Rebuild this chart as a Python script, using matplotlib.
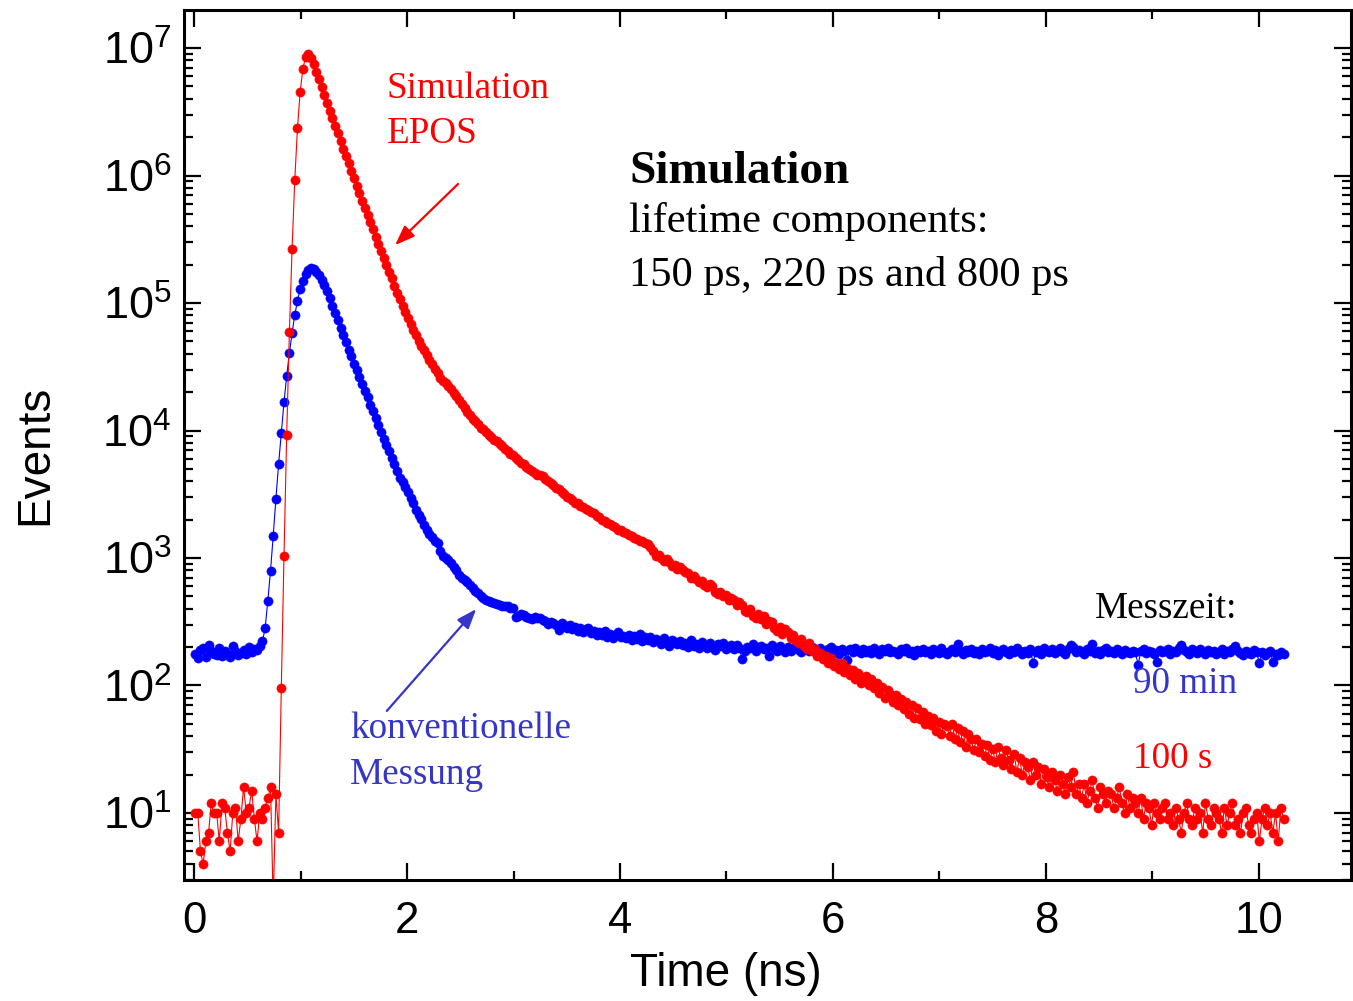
"""Positron lifetime spectra: EPOS simulation (100 s) vs. conventional measurement (90 min)."""

import matplotlib

matplotlib.use("Agg")
import matplotlib.pyplot as plt
import numpy as np
from matplotlib.ticker import FixedLocator, LogLocator, MultipleLocator, NullFormatter

plt.rcParams["font.family"] = ["Liberation Sans", "DejaVu Sans"]
plt.rcParams["mathtext.fontset"] = "custom"
plt.rcParams["mathtext.rm"] = "Liberation Sans"
plt.rcParams["mathtext.it"] = "Liberation Sans:italic"
plt.rcParams["mathtext.bf"] = "Liberation Sans:bold"

# time channels of the spectra (ns)
CHANNEL_START_NS = 0.01
CHANNEL_WIDTH_NS = 0.0253

# conventional measurement, 90 min (blue)
conventional_counts = [
    178, 164, 190, 197, 168, 208, 185, 178, 172, 196, 170, 188, 176, 166, 205, 186, 172, 180, 190, 176,
    200, 182, 194, 190, 205,
    222, 282, 463, 795, 1490, 2920, 5460, 9610, 16700, 26800, 40500, 58200,
    80600, 104000, 129000, 150000, 169000, 182000, 187000, 185000, 176000, 166000,
    153000, 138000, 124000, 109000, 95500, 84100, 73600, 64300, 56100, 49700,
    43200, 38400, 33500, 29600, 26100, 23000, 20400, 18200, 16000, 14200,
    12500, 11100, 9820, 8650, 7760, 6900, 6080, 5460, 4810, 4280,
    3950, 3600, 3270, 2930, 2680, 2380, 2190, 2020, 1820, 1670,
    1540, 1450, 1360, 1300, 1140, 1040, 1000, 964, 914, 857,
    805, 736, 703, 671, 648, 614, 582, 556, 531, 508,
    490, 469, 460, 452, 444, 436, 428, 424, 420, 417,
    409, 402, 345, 354, 364, 357, 345, 338, 332, 345,
    338, 341, 326, 318, 303, 312, 310, 298, 272, 309,
    300, 284, 296, 276, 290, 268, 280, 262, 275, 285, 258, 270, 250,
    262, 248, 270, 240, 255, 236, 250, 262, 238, 246,
    236, 250, 228, 244, 232, 252, 222, 238, 226, 240,
    218, 232, 224, 212, 236, 215, 205, 228, 220, 210,
    222, 208, 214, 200, 226, 205, 212, 196, 218, 208,
    198, 214, 202, 190, 210, 204, 215, 195, 200, 208,
    192, 206, 198, 160, 188, 202, 196, 210, 185, 200,
    205, 192, 198, 170, 208, 196, 188, 203, 195, 182,
    200, 188, 196, 204, 190, 182, 198, 192, 186, 200,
    194, 184, 198, 188, 180, 192, 200, 185, 190, 178,
    192, 186, 158, 194, 182, 196, 188, 180, 192, 184,
    190, 180, 196, 184, 176, 192, 186, 198, 182, 188,
    184, 178, 192, 186, 196, 180, 188, 175, 190, 184,
    194, 182, 186, 178, 192, 188, 180, 196, 184, 176,
    188, 192, 182, 210, 186, 178, 190, 184, 194, 180,
    186, 176, 192, 182, 188, 196, 180, 190, 172, 186,
    194, 184, 178, 190, 182, 196, 186, 176, 188, 180,
    192, 150, 184, 190, 178, 196, 186, 182, 192, 180,
    188, 196, 184, 178, 192, 208, 200, 182, 190, 184,
    178, 192, 186, 212, 180, 188, 176, 190, 196, 184,
    188, 180, 194, 186, 178, 190, 184, 180, 188, 182,
    145, 186, 192, 180, 188, 184, 176, 153, 190, 182,
    186, 194, 178, 188, 182, 196, 206, 190, 184, 176,
    192, 186, 180, 194, 184, 178, 190, 182, 188, 176,
    184, 192, 178, 188, 182, 194, 204, 186, 180, 172,
    186, 180, 176, 190, 182, 150, 184, 174, 180, 188,
    152, 178, 172, 182, 176,
]

# EPOS simulation, 100 s (red)
simulation_counts = [
    10, 10, 5, 4, 6, 7, 12, 10, 10, 6,
    12, 11, 7, 5, 10, 11, 6, 9, 16, 10,
    11, 15, 9, 6, 10, 9, 11, 13, 16, 2,
    14, 7, 95, 1040, 9220, 59300, 266000, 923000, 2350000, 4540000,
    6840000, 8550000, 8970000,
    8300000, 7450000, 6520000, 5690000, 4970000, 4280000, 3720000, 3220000, 2810000, 2440000,
    2140000, 1870000, 1630000, 1420000, 1250000, 1090000, 951000, 832000, 726000, 634000,
    560000, 490000, 430000, 378000, 331000, 290000, 256000, 226000, 199000, 176000,
    156000, 137000, 121000, 107000, 95300, 85500, 76700, 68900, 61900, 56000,
    50700, 46200, 42500, 39100, 35900, 33000, 30400, 28100, 25700, 24300,
    23400, 22400, 21000, 19700, 18500, 17300, 16100,
    15100, 13900, 13300, 12400, 11900, 11300, 10500, 10200, 9800, 9280,
    8950, 8500, 8250, 7800, 7560, 7180, 6950, 6600, 6380, 6080,
    5850, 5570, 5420, 5180, 5030, 4800, 4680, 4500, 4460, 4400,
    4180, 4030, 3850, 3750, 3570, 3460, 3280, 3170, 3010, 2930,
    2840, 2720, 2680, 2570, 2520, 2420, 2380, 2290, 2240, 2140,
    2080, 1990, 1960, 1890, 1850, 1770, 1740, 1670, 1650, 1590,
    1570, 1510, 1490, 1440, 1420, 1360, 1350, 1300, 1280, 1210,
    1130, 1040, 1060, 995, 950, 975, 930, 870, 880, 825,
    845, 800, 770, 760, 700, 725, 690, 645, 665, 610,
    590, 620, 600, 540, 520, 545, 500, 515, 470, 490,
    470, 425, 450, 430, 385, 380, 400, 350, 340, 365,
    330, 350, 305, 320, 315, 280, 270, 290, 255, 275,
    265, 235, 250, 225, 215, 230, 205, 195, 215, 185,
    195, 170, 180, 160, 170, 150, 165, 142, 150, 135,
    150, 128, 138, 120, 132, 112, 126, 105, 115, 118,
    100, 112, 95, 104, 88, 98, 80, 92, 86, 74,
    84, 70, 78, 65, 74, 60, 70, 56, 66, 55,
    62, 50, 58, 49, 56, 44, 52, 42, 50, 48,
    40, 50, 38, 46, 36, 44, 33, 42, 38, 31,
    38, 30, 35, 28, 34, 26, 32, 25, 33, 27,
    24, 31, 26, 22, 29, 21, 27, 20, 25, 23,
    18, 25, 20, 23, 17, 22, 19, 16, 21, 18,
    15, 20, 17, 14, 19, 16, 21, 14, 17, 13,
    17, 12, 15, 18, 13, 11, 16, 14, 12, 15,
    14, 11, 13, 16, 12, 10, 14, 11, 13, 12,
    10, 13, 9, 12, 11, 8, 12, 10, 9, 11,
    12, 9, 10, 8, 11, 9, 7, 10, 12, 9,
    8, 11, 9, 10, 7, 12, 9, 8, 11, 10,
    9, 7, 11, 8, 10, 12, 8, 9, 7, 10,
    11, 8, 7, 9, 10, 6, 9, 11, 8, 10,
    7, 10, 6, 11, 9,
]

decade_ticks = [1e1, 1e2, 1e3, 1e4, 1e5, 1e6, 1e7]

BLUE = "#0000FF"
RED = "#FF0000"
TEXT_BLUE = "#3535C8"
SERIF = ["Liberation Serif", "DejaVu Serif"]
ARROW = "-|>,head_length=0.8,head_width=0.3"


def channel_times(counts):
    return CHANNEL_START_NS + CHANNEL_WIDTH_NS * np.arange(len(counts))


figure = plt.figure(figsize=(13.53, 10.01), dpi=100)
axis = figure.add_axes([184 / 1353, 121 / 1001, 1167 / 1353, 870 / 1001])

axis.plot(channel_times(conventional_counts), conventional_counts, "-o", color=BLUE,
          markersize=6.6, linewidth=0.8, markeredgewidth=0.4)
axis.plot(channel_times(simulation_counts), simulation_counts, "-o", color=RED,
          markersize=6.6, linewidth=0.8, markeredgewidth=0.4)

axis.set_yscale("log")
axis.set_xlim(-0.094, 10.864)
axis.set_ylim(2.98, 1.99e7)
axis.xaxis.set_major_locator(MultipleLocator(2))
axis.xaxis.set_minor_locator(MultipleLocator(1))
axis.yaxis.set_major_locator(FixedLocator(decade_ticks))
axis.yaxis.set_minor_locator(LogLocator(base=10, subs=np.arange(2, 10), numticks=20))
axis.yaxis.set_minor_formatter(NullFormatter())
axis.tick_params(which="both", direction="in", top=True, right=True, width=1.6)
axis.tick_params(which="major", length=12)
axis.tick_params(which="minor", length=6.5)
axis.tick_params(axis="x", which="major", labelsize=31.5, pad=15)
axis.tick_params(axis="y", which="major", labelsize=32.5, pad=9)
for spine in axis.spines.values():
    spine.set_linewidth(2.2)

axis.set_xlabel("Time (ns)", fontsize=33)
axis.set_ylabel("Events", fontsize=33, va="center")
axis.xaxis.set_label_coords(0.4644, -0.083)
axis.yaxis.set_label_coords(-0.1277, 0.4885)

# annotations
axis.text(1.812, 4.06e6, "Simulation", color=RED, fontsize=26.7, family=SERIF, va="baseline")
axis.text(1.812, 1.80e6, "EPOS", color=RED, fontsize=26.7, family=SERIF, va="baseline")
axis.annotate("", xy=(1.869, 2.75e5), xytext=(2.498, 8.9e5),
              arrowprops=dict(arrowstyle=ARROW, color=RED, lw=1.6, mutation_scale=15))

axis.text(4.085, 8.73e5, "Simulation", color="black", fontsize=34, family=SERIF,
          weight="bold", va="baseline")
axis.text(4.085, 3.61e5, "lifetime components:", color="black", fontsize=30.6, family=SERIF,
          va="baseline")
axis.text(4.085, 1.35e5, "150 ps, 220 ps and 800 ps", color="black", fontsize=30.6, family=SERIF,
          va="baseline")

axis.text(1.465, 38.7, "konventionelle", color=TEXT_BLUE, fontsize=26.7, family=SERIF, va="baseline")
axis.text(1.465, 17.0, "Messung", color=TEXT_BLUE, fontsize=26.7, family=SERIF, va="baseline")
axis.annotate("", xy=(2.667, 413), xytext=(1.793, 60.8),
              arrowprops=dict(arrowstyle=ARROW, color=TEXT_BLUE, lw=1.6, mutation_scale=15))

axis.text(8.46, 338, "Messzeit:", color="black", fontsize=26.7, family=SERIF, va="baseline")
axis.text(8.817, 87.3, "90 min", color=TEXT_BLUE, fontsize=26.7, family=SERIF, va="baseline")
axis.text(8.817, 22.5, "100 s", color=RED, fontsize=26.7, family=SERIF, va="baseline")

figure.savefig("out.png", dpi=100)
plt.close(figure)
